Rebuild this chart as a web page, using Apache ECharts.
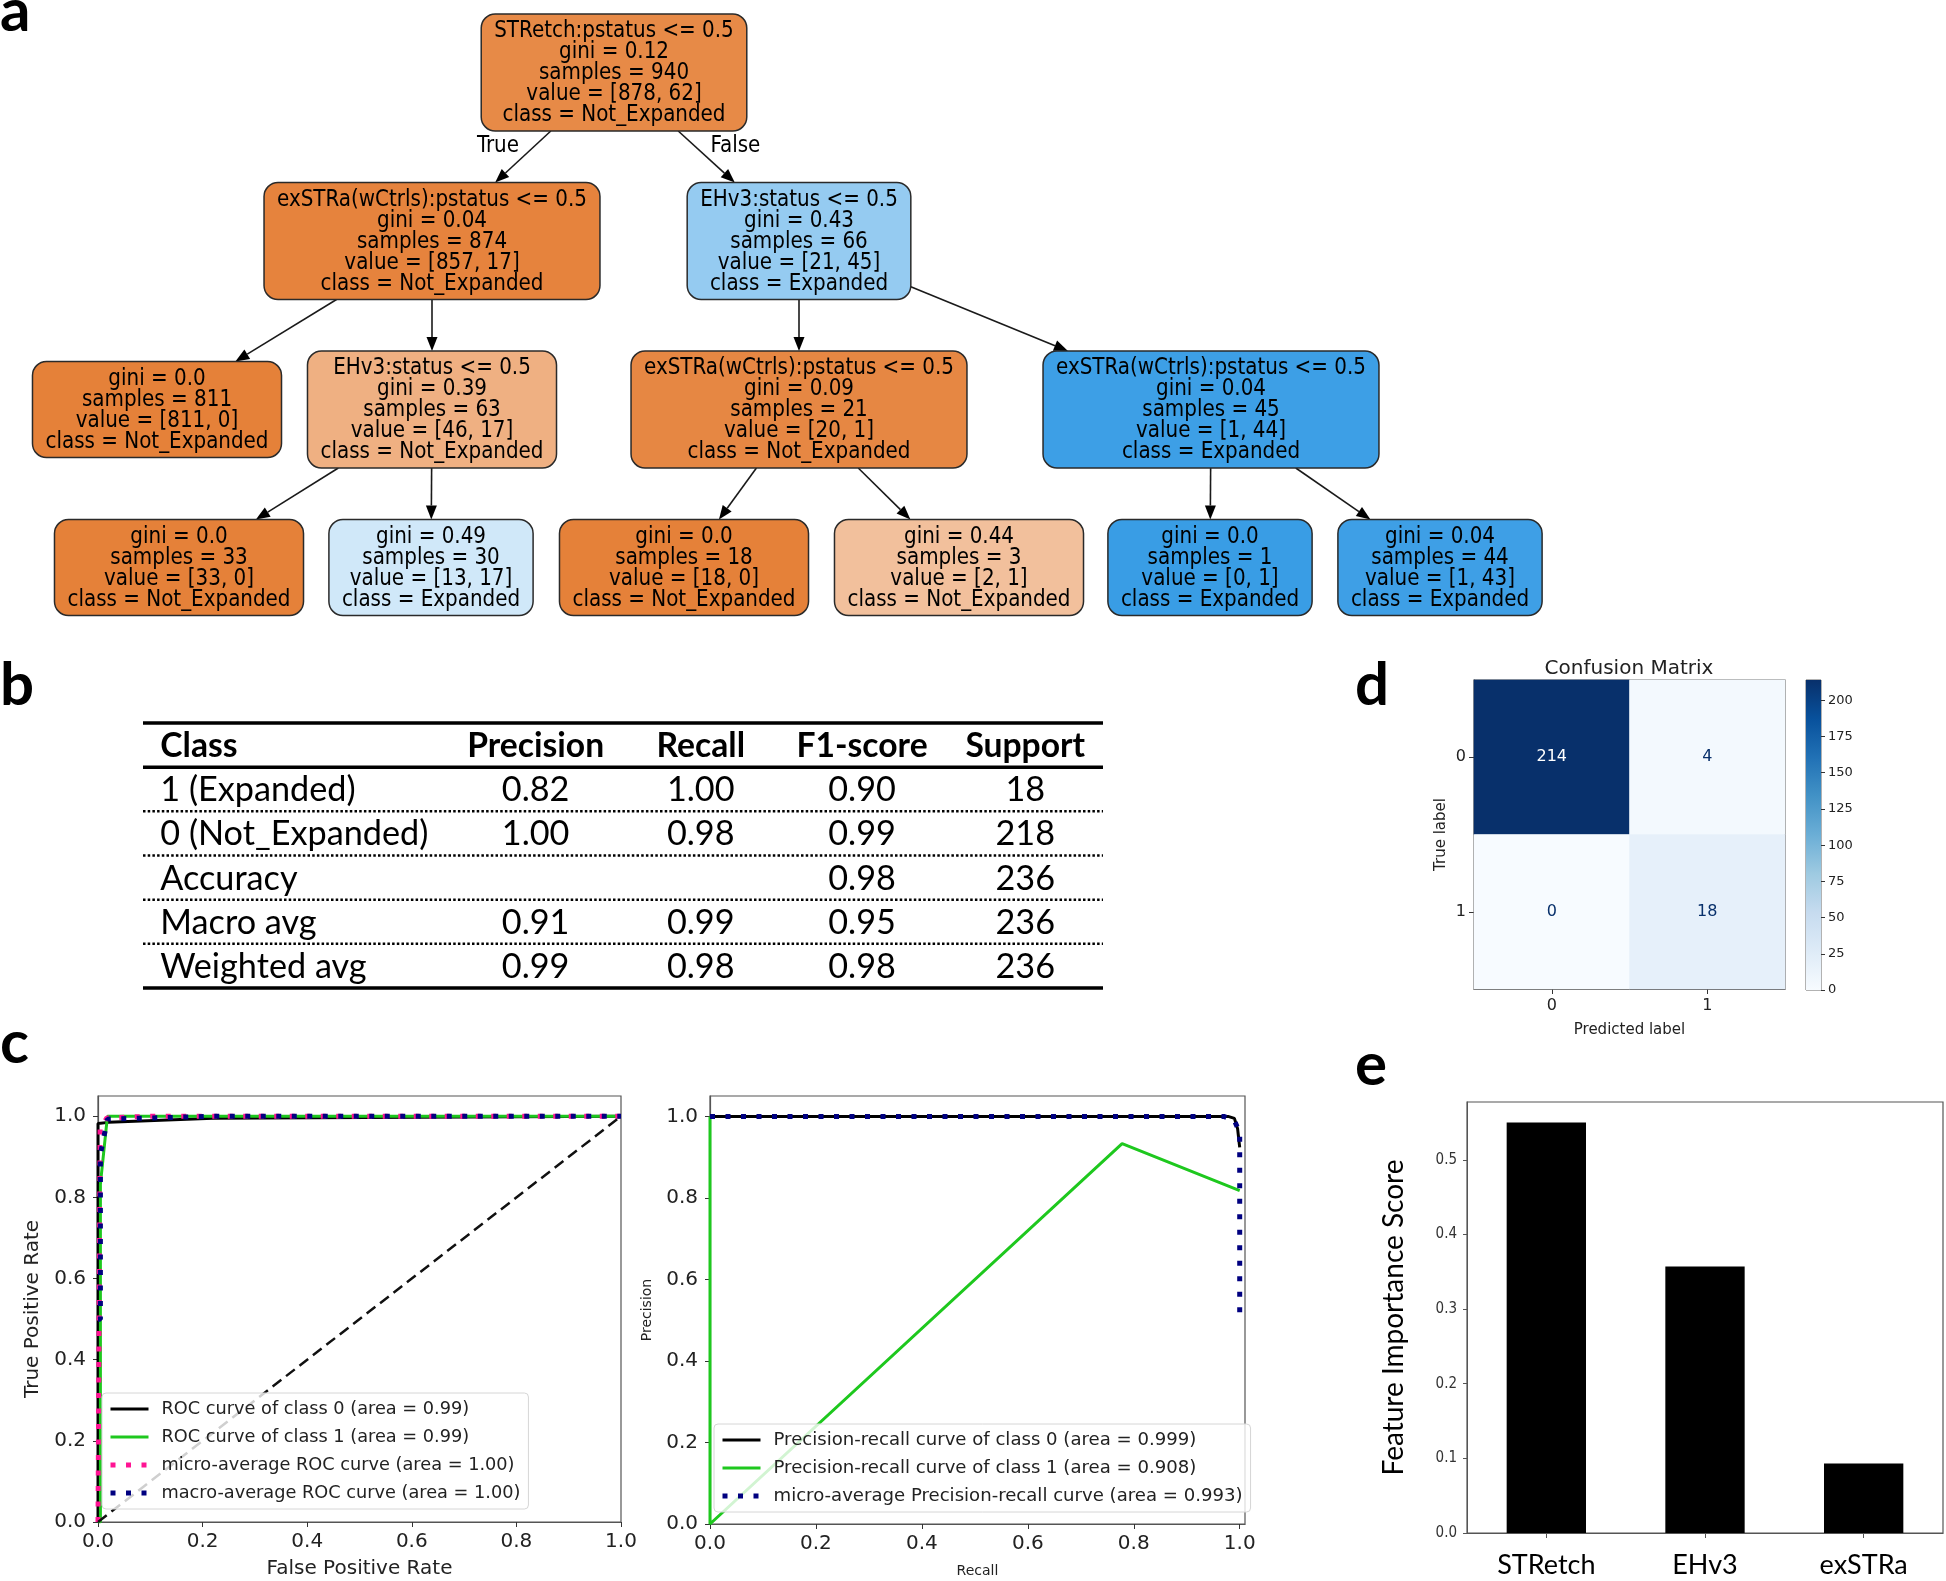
<!DOCTYPE html>
<html><head><meta charset="utf-8">
<script src="https://cdn.jsdelivr.net/npm/echarts@6/dist/echarts.min.js"></script>
<style>html,body{margin:0;padding:0;background:#fff}#c{width:1946px;height:1581px}</style>
</head><body><div id="c"></div>
<script>
// ================= DATA =================
// (a) decision tree
const nodeSplit = ['STRetch:pstatus <= 0.5','exSTRa(wCtrls):pstatus <= 0.5','EHv3:status <= 0.5',null,'EHv3:status <= 0.5','exSTRa(wCtrls):pstatus <= 0.5','exSTRa(wCtrls):pstatus <= 0.5',null,null,null,null,null,null];
const nodeGini = ['0.12','0.04','0.43','0.0','0.39','0.09','0.04','0.0','0.49','0.0','0.44','0.0','0.04'];
const nodeSamples = [940,874,66,811,63,21,45,33,30,18,3,1,44];
const nodeValue = [[878,62],[857,17],[21,45],[811,0],[46,17],[20,1],[1,44],[33,0],[13,17],[18,0],[2,1],[0,1],[1,43]];
const nodeParent = [-1,0,0,1,1,2,2,4,4,5,5,6,6];
const edgeLabel = [null,'True','False',null,null,null,null,null,null,null,null,null,null];
const classNames = ['Not_Expanded','Expanded'];

// (b) classification report
const tableColumns = ['Class','Precision','Recall','F1-score','Support'];
const tableRows = ['1 (Expanded)','0 (Not_Expanded)','Accuracy','Macro avg','Weighted avg'];
const precisionCol = ['0.82','1.00','','0.91','0.99'];
const recallCol = ['1.00','0.98','','0.99','0.98'];
const f1Col = ['0.90','0.99','0.98','0.95','0.98'];
const supportCol = ['18','218','236','236','236'];

// (c) ROC curves [fpr, tpr]
const rocNames = ['ROC curve of class 0 (area = 0.99)','ROC curve of class 1 (area = 0.99)','micro-average ROC curve (area = 1.00)','macro-average ROC curve (area = 1.00)'];
const rocClass0 = [[0,0],[0,0.982],[0.02,0.985],[0.22,0.995],[1,1]];
const rocClass1 = [[0,0],[0.0046,0],[0.0046,0.833],[0.018,1.0],[1,1]];
const rocMicro = [[0,0],[0.004,0.97],[0.017,0.996],[0.1,1.0],[1,1]];
const rocMacro = [[0,0.5],[0.0046,0.5],[0.0046,0.907],[0.018,0.993],[0.222,1.0],[1,1]];
const rocChance = [[0,0],[1,1]];
// (c) precision-recall curves [recall, precision]
const prNames = ['Precision-recall curve of class 0 (area = 0.999)','Precision-recall curve of class 1 (area = 0.908)','micro-average Precision-recall curve (area = 0.993)'];
const prClass0 = [[0,1],[0.978,1],[0.99,0.995],[0.996,0.97],[1.0,0.924]];
const prClass1 = [[1.0,0.818],[0.778,0.933],[0,0],[0,1]];
const prMicro = [[0,1],[0.97,1],[0.99,0.99],[1.0,0.96],[1.0,0.5]];
const axisTicks01 = [0,0.2,0.4,0.6,0.8,1.0];

// (d) confusion matrix
const cmLabels = ['0','1'];
const cmValues = [[214,4],[0,18]]; // rows = true label, cols = predicted

// (e) feature importance
const featureNames = ['STRetch','EHv3','exSTRa'];
const featureScores = [0.55,0.357,0.093];

// ================= STYLE / LAYOUT =================
const DV = '"DejaVu Sans", sans-serif';
const DVC = '"DejaVu Sans Condensed", "DejaVu Sans", sans-serif';
const CAL = 'Lato, "Open Sans", sans-serif';
const classRGB = [[229,129,57],[57,157,229]];
const treeNodeX = [614,432,799,157,432,799,1211,179,431,684,959,1210,1440]; // tree panel layout units
const tableColX = [1.8,40.9,58.1,74.9,91.9];
const blues = ['#f7fbff','#deebf7','#c6dbef','#9ecae1','#6baed6','#4292c6','#2171b5','#08519c','#08306b'];

const mctx = document.createElement('canvas').getContext('2d');
function textW(s, font){ mctx.font = font; return mctx.measureText(s).width; }
function fitSize(s, fam, weight, target){ return 100*target/textW(s, weight+' 100px '+fam); }

// tree text
const treeFS = Math.min(22.5, Math.max(15, fitSize('exSTRa(wCtrls):pstatus <= 0.5', DVC, 'normal', 310)));
const treeFont = treeFS.toFixed(2)+'px '+DVC;
const treeLH = 21, padX = 13, padY = 6;
function nodeLines(i){
  const v = nodeValue[i];
  const cls = classNames[v[0]>=v[1]?0:1];
  const L = [];
  if (nodeSplit[i]) L.push(nodeSplit[i]);
  L.push('gini = '+nodeGini[i]);
  L.push('samples = '+nodeSamples[i]);
  L.push('value = ['+v[0]+', '+v[1]+']');
  L.push('class = '+cls);
  return L;
}
function nodeColor(v){
  const tot = v[0]+v[1]; const f = [v[0]/tot, v[1]/tot];
  const k = f[0]>=f[1]?0:1; const s = f.slice().sort((a,b)=>b-a);
  const a = (s[0]-s[1])/(1-s[1]);
  return 'rgb('+classRGB[k].map(c=>Math.round(a*c+(1-a)*255)).join(',')+')';
}
const nodeDepth = nodeParent.map((p,i)=>{let d=0,q=i;while(nodeParent[q]>=0){q=nodeParent[q];d++;}return d;});
const nodeW = nodeParent.map((p,i)=>Math.max(...nodeLines(i).map(l=>textW(l,treeFont)))+2*padX);
const nodeH = nodeParent.map((p,i)=>nodeLines(i).length*treeLH+2*padY);
const maxDepth = Math.max(...nodeDepth);
const rankCenter = []; { let top = 14; for (let d=0; d<=maxDepth; d++){ const h = Math.max(...nodeH.filter((_,i)=>nodeDepth[i]===d)); rankCenter.push(top+h/2); top += h+51.5; } }
const nodeY = nodeDepth.map(d=>rankCenter[d]);

function clipBox(cx, cy, hw, hh, dx, dy){
  const t = Math.min(dx!==0?hw/Math.abs(dx):Infinity, dy!==0?hh/Math.abs(dy):Infinity);
  return [cx+dx*t, cy+dy*t];
}

function renderNode(params, api){
  const i = api.value(2);
  const p = api.coord([treeNodeX[i], nodeY[i]]);
  const w = nodeW[i], h = nodeH[i];
  return {type:'group', children:[
    {type:'rect', shape:{x:p[0]-w/2, y:p[1]-h/2, width:w, height:h, r:14}, style:{fill:nodeColor(nodeValue[i]), stroke:'#2a2a2a', lineWidth:1.5}},
    {type:'text', style:{text:nodeLines(i).join('\n'), x:p[0], y:p[1]+1, align:'center', verticalAlign:'middle', font:treeFont, lineHeight:treeLH, fill:'#000'}}
  ]};
}
function renderEdge(params, api){
  const c = api.value(2); const p = nodeParent[c];
  const P = api.coord([treeNodeX[p], nodeY[p]]);
  const C = api.coord([treeNodeX[c], nodeY[c]]);
  let dx = C[0]-P[0], dy = C[1]-P[1]; const len = Math.hypot(dx,dy); dx/=len; dy/=len;
  const A = clipBox(P[0],P[1],nodeW[p]/2,nodeH[p]/2,dx,dy);
  const B = clipBox(C[0],C[1],nodeW[c]/2,nodeH[c]/2,-dx,-dy);
  const L = 14, hw = 5.5;
  const base = [B[0]-dx*L, B[1]-dy*L];
  const ch = [
    {type:'line', shape:{x1:A[0],y1:A[1],x2:base[0],y2:base[1]}, style:{stroke:'#1a1a1a', lineWidth:1.6}},
    {type:'polygon', shape:{points:[[B[0],B[1]],[base[0]-dy*hw,base[1]+dx*hw],[base[0]+dy*hw,base[1]-dx*hw]]}, style:{fill:'#000'}}
  ];
  if (edgeLabel[c]){
    const tw = textW(edgeLabel[c], treeFont);
    const M = [(A[0]+B[0])/2, (A[1]+B[1])/2];
    const sgn = dx<0?-1:1;
    ch.push({type:'text', style:{text:edgeLabel[c], x:M[0]+sgn*(tw/2+4), y:M[1]-11, align:'center', verticalAlign:'middle', font:treeFont, fill:'#000'}});
  }
  return {type:'group', children:ch};
}

// table
const tblFS = fitSize('0 (Not_Expanded)', CAL, 'normal', 268);
const tblHFS = fitSize('Precision', CAL, 'bold', 137);
function renderTable(params, api){
  const r = api.value(1);
  const c = api.coord([0, r]);
  const rowH = api.size([0,1])[1];
  const xL = api.coord([0, r])[0], xR = api.coord([100, r])[0];
  const cells = r===0 ? tableColumns : [tableRows[r-1], precisionCol[r-1], recallCol[r-1], f1Col[r-1], supportCol[r-1]];
  const font = r===0 ? ('bold '+tblHFS.toFixed(2)+'px '+CAL) : (tblFS.toFixed(2)+'px '+CAL);
  const ch = cells.map((t,j)=>({type:'text', style:{text:t, x: api.coord([tableColX[j], r])[0], y:c[1]+1, align: j===0?'left':'center', verticalAlign:'middle', font:font, fill:'#000'}}));
  const yb = c[1]+rowH/2;
  const last = tableRows.length;
  if (r===0) ch.push({type:'line', shape:{x1:xL,y1:c[1]-rowH/2,x2:xR,y2:c[1]-rowH/2}, style:{stroke:'#000', lineWidth:3.5}});
  if (r===0 || r===last) ch.push({type:'line', shape:{x1:xL,y1:yb,x2:xR,y2:yb}, style:{stroke:'#000', lineWidth:3.5}});
  else ch.push({type:'line', shape:{x1:xL,y1:yb,x2:xR,y2:yb}, style:{stroke:'#000', lineWidth:2.5, lineDash:[2.5,2.2]}});
  return {type:'group', children:ch};
}

// legends
const rocLegFS = Math.min(19, fitSize(rocNames[0], DV, 'normal', 308));
const prLegFS = Math.min(19, fitSize(prNames[0], DV, 'normal', 423));

// ================= OPTION =================
const tickLabel = (fs, fam) => ({fontSize:fs, fontFamily:fam, color:'#222'});
const hidden = {show:false};
const dotted = [5,10.5];

const cmMax = Math.max(...cmValues.flat());
const cmData = [];
cmValues.forEach((row,ri)=>row.forEach((v,ci)=>cmData.push({value:[ci,ri,v], label:{color: v > cmMax/2 ? '#fff' : '#08306b'}})));

const legendBase = {orient:'vertical', itemWidth:38, itemHeight:14, selectedMode:false, padding:[7,8,7,6],
  backgroundColor:'rgba(255,255,255,0.8)', borderColor:'#d6d6d6', borderWidth:1, borderRadius:4,
  itemStyle:{opacity:0}, lineStyle:{width:'inherit', type:'inherit', cap:'butt'}};

const letter = (t, left, top) => ({text:t, left:left, top:top, padding:0, textStyle:{fontFamily:CAL, fontWeight:'bold', fontSize:60, color:'#000'}});

const option = {
  animation:false,
  backgroundColor:'#fff',
  title:[
    letter('a',0,-18), letter('b',0,656), letter('c',0,1014), letter('d',1355,656), letter('e',1355,1036),
    {text:'Confusion Matrix', left:1629, textAlign:'center', top:659, padding:0, textStyle:{fontFamily:DV, fontWeight:'normal', fontSize:20, color:'#222'}}
  ],
  legend:[
    Object.assign({}, legendBase, {data:rocNames, left:102, top:1393, itemGap:10,
     textStyle:{fontFamily:DV, fontSize:rocLegFS, color:'#222', padding:[0,0,0,8]}}),
    Object.assign({}, legendBase, {data:prNames, left:714, top:1424, itemGap:10,
     textStyle:{fontFamily:DV, fontSize:prLegFS, color:'#222', padding:[0,0,0,8]}})
  ],
  visualMap:[{show:false, type:'continuous', seriesIndex:11, dimension:2, min:0, max:cmMax, inRange:{color:blues}}],
  grid:[
    {left:0, top:0, width:1946, height:640},
    {left:143, top:723, width:960, height:265},
    {left:98, top:1096, width:523, height:426, show:true, borderColor:'#555', borderWidth:1.2, backgroundColor:'transparent'},
    {left:710, top:1096, width:535, height:428, show:true, borderColor:'#555', borderWidth:1.2, backgroundColor:'transparent'},
    {left:1474, top:680, width:311, height:309, show:true, borderColor:'#555', borderWidth:1.2, backgroundColor:'transparent'},
    {left:1806, top:680, width:15, height:310, show:true, borderColor:'#666', borderWidth:1, backgroundColor:'transparent'},
    {left:1467, top:1102, width:476, height:431, show:true, borderColor:'#555', borderWidth:1.2, backgroundColor:'transparent'}
  ],
  xAxis:[
    {gridIndex:0, type:'value', min:0, max:1946, show:false},
    {gridIndex:1, type:'value', min:0, max:100, show:false},
    {gridIndex:2, type:'value', min:0, max:1, interval:0.2, name:'False Positive Rate', nameLocation:'middle', nameGap:37,
     nameTextStyle:{fontFamily:DV, fontSize:20, color:'#222'},
     axisLine:{show:true, lineStyle:{color:'#555', width:1.2}}, axisTick:{show:true, inside:false, length:5, lineStyle:{color:'#333'}},
     axisLabel:Object.assign({margin:10, formatter:v=>v.toFixed(1)}, tickLabel(20, DV)), splitLine:hidden},
    {gridIndex:3, type:'value', min:0, max:1.01, interval:0.2, name:'Recall', nameLocation:'middle', nameGap:40,
     nameTextStyle:{fontFamily:DV, fontSize:14, color:'#222'},
     axisLine:{show:true, lineStyle:{color:'#555', width:1.2}}, axisTick:{show:true, length:5, lineStyle:{color:'#333'}},
     axisLabel:Object.assign({margin:10, showMaxLabel:false, formatter:v=>axisTicks01.some(t=>Math.abs(t-v)<1e-6)?v.toFixed(1):''}, tickLabel(20, DV)), splitLine:hidden},
    {gridIndex:4, type:'category', data:cmLabels, name:'Predicted label', nameLocation:'middle', nameGap:34,
     nameTextStyle:{fontFamily:DV, fontSize:15, color:'#222'},
     axisLine:{show:true, lineStyle:{color:'#555'}}, axisTick:{show:true, alignWithLabel:true, length:5, lineStyle:{color:'#333'}},
     axisLabel:Object.assign({margin:9}, tickLabel(16, DV)), splitLine:hidden},
    {gridIndex:5, type:'category', data:['cb'], show:false},
    {gridIndex:6, type:'category', data:featureNames, axisLine:{show:true, lineStyle:{color:'#555'}},
     axisTick:{show:true, alignWithLabel:true, length:5, lineStyle:{color:'#555'}},
     axisLabel:{margin:19, fontFamily:CAL, fontSize:27, color:'#000'}, splitLine:hidden}
  ],
  yAxis:[
    {gridIndex:0, type:'value', min:0, max:640, inverse:true, show:false},
    {gridIndex:1, type:'category', data:['h'].concat(tableRows), inverse:true, show:false},
    {gridIndex:2, type:'value', min:0, max:1.05, interval:0.2, name:'True Positive Rate', nameLocation:'middle', nameGap:55, nameRotate:90,
     nameTextStyle:{fontFamily:DV, fontSize:20, color:'#222'},
     axisLine:{show:true, lineStyle:{color:'#555', width:1.2}}, axisTick:{show:true, length:5, lineStyle:{color:'#333'}},
     axisLabel:Object.assign({margin:12, showMaxLabel:false, formatter:v=>axisTicks01.some(t=>Math.abs(t-v)<1e-6)?v.toFixed(1):''}, tickLabel(20, DV)), splitLine:hidden},
    {gridIndex:3, type:'value', min:0, max:1.05, interval:0.2, name:'Precision', nameLocation:'middle', nameGap:56, nameRotate:90,
     nameTextStyle:{fontFamily:DV, fontSize:14, color:'#222'},
     axisLine:{show:true, lineStyle:{color:'#555', width:1.2}}, axisTick:{show:true, length:5, lineStyle:{color:'#333'}},
     axisLabel:Object.assign({margin:12, showMaxLabel:false, formatter:v=>axisTicks01.some(t=>Math.abs(t-v)<1e-6)?v.toFixed(1):''}, tickLabel(20, DV)), splitLine:hidden},
    {gridIndex:4, type:'category', data:cmLabels, inverse:true, name:'True label', nameLocation:'middle', nameGap:25, nameRotate:90,
     nameTextStyle:{fontFamily:DV, fontSize:15, color:'#222'},
     axisLine:{show:true, lineStyle:{color:'#555'}}, axisTick:{show:true, alignWithLabel:true, length:5, lineStyle:{color:'#333'}},
     axisLabel:Object.assign({margin:8}, tickLabel(16, DV)), splitLine:hidden},
    {gridIndex:5, type:'value', position:'right', min:0, max:cmMax, interval:25,
     axisLine:{show:false}, axisTick:{show:true, length:4, lineStyle:{color:'#333'}},
     axisLabel:Object.assign({margin:7, showMaxLabel:false}, tickLabel(13, DV)), splitLine:hidden},
    {gridIndex:6, type:'value', min:0, max:0.5775, interval:0.1, name:'Feature Importance Score', nameLocation:'middle', nameGap:59, nameRotate:90,
     nameTextStyle:{fontFamily:CAL, fontSize:28, color:'#000'},
     axisLine:{show:true, lineStyle:{color:'#555'}}, axisTick:{show:true, length:4, lineStyle:{color:'#555'}},
     axisLabel:{margin:10, showMaxLabel:false, formatter:v=>v.toFixed(1), fontFamily:DVC, fontSize:15, color:'#333'}, splitLine:hidden}
  ],
  series:[
    {type:'custom', xAxisIndex:0, yAxisIndex:0, renderItem:renderEdge, encode:{x:0,y:1}, silent:true,
     data:nodeParent.map((p,i)=>[treeNodeX[i], nodeY[i], i]).filter(d=>nodeParent[d[2]]>=0), z:2},
    {type:'custom', xAxisIndex:0, yAxisIndex:0, renderItem:renderNode, encode:{x:0,y:1}, silent:true,
     data:nodeParent.map((p,i)=>[treeNodeX[i], nodeY[i], i]), z:3},
    {type:'custom', xAxisIndex:1, yAxisIndex:1, renderItem:renderTable, encode:{x:0,y:1}, silent:true,
     data:[0].concat(tableRows.map((_,k)=>k+1)).map(r=>[0,r])},
    // ROC (3..7)
    {type:'line', name:rocNames[0], xAxisIndex:2, yAxisIndex:2, data:rocClass0, symbol:'none', lineStyle:{color:'#000', width:3}, itemStyle:{color:'#000'}},
    {type:'line', name:rocNames[1], xAxisIndex:2, yAxisIndex:2, data:rocClass1, symbol:'none', lineStyle:{color:'#1ec81e', width:3}, itemStyle:{color:'#1ec81e'}},
    {type:'line', name:rocNames[2], xAxisIndex:2, yAxisIndex:2, data:rocMicro, symbol:'none', lineStyle:{color:'#ff1493', width:5, type:dotted, cap:'butt'}, itemStyle:{color:'#ff1493'}},
    {type:'line', name:rocNames[3], xAxisIndex:2, yAxisIndex:2, data:rocMacro, symbol:'none', lineStyle:{color:'#000080', width:5, type:dotted, cap:'butt'}, itemStyle:{color:'#000080'}},
    {type:'line', name:'chance', xAxisIndex:2, yAxisIndex:2, data:rocChance, symbol:'none', lineStyle:{color:'#111', width:2.5, type:[11,6]}},
    // PR (8..10)
    {type:'line', name:prNames[0], xAxisIndex:3, yAxisIndex:3, data:prClass0, symbol:'none', lineStyle:{color:'#000', width:3}, itemStyle:{color:'#000'}},
    {type:'line', name:prNames[1], xAxisIndex:3, yAxisIndex:3, data:prClass1, symbol:'none', lineStyle:{color:'#1ec81e', width:3}, itemStyle:{color:'#1ec81e'}},
    {type:'line', name:prNames[2], xAxisIndex:3, yAxisIndex:3, data:prMicro, symbol:'none', lineStyle:{color:'#000080', width:5, type:dotted, cap:'butt'}, itemStyle:{color:'#000080'}},
    // confusion matrix (11)
    {type:'heatmap', xAxisIndex:4, yAxisIndex:4, data:cmData,
     label:{show:true, formatter:p=>String(p.value[2]), fontFamily:DV, fontSize:16}},
    // colorbar (12)
    {type:'bar', xAxisIndex:5, yAxisIndex:5, data:[cmMax], barWidth:'100%', silent:true,
     itemStyle:{color:{type:'linear', x:0, y:1, x2:0, y2:0, colorStops:blues.map((c,k)=>({offset:k/(blues.length-1), color:c}))}}},
    // feature importance (13)
    {type:'bar', xAxisIndex:6, yAxisIndex:6, data:featureScores, barWidth:'50%', itemStyle:{color:'#000'}}
  ]
};
const chart = echarts.init(document.getElementById('c'), null, {renderer:'canvas'});
chart.setOption(option);
</script></body></html>
